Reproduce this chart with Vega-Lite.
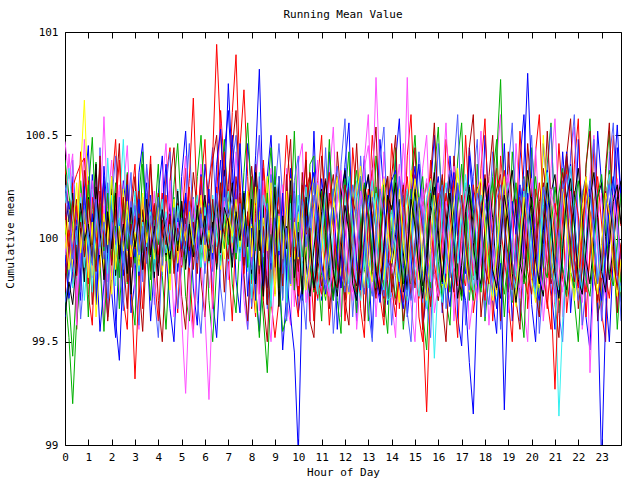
{
"$schema": "https://vega.github.io/schema/vega-lite/v6.json",
"width": 556, "height": 413,
"autosize": "none",
"padding": {"left": 65, "top": 32, "right": 19, "bottom": 35},
"background": "white",
"title": {"text": "Running Mean Value", "font": "DejaVu Sans Mono", "fontSize": 11, "fontWeight": "normal", "color": "black", "offset": 6, "anchor": "middle"},
"config": {"view": {"stroke": "black", "strokeWidth": 1}, "axis": {"labelFont": "DejaVu Sans Mono", "labelFontSize": 11, "labelColor": "black", "titleFont": "DejaVu Sans Mono", "titleFontSize": 11, "titleFontWeight": "normal", "titleColor": "black", "grid": false, "domain": false, "tickColor": "black", "tickSize": -6}},
"datasets": {
"main": [
{"x":0,"a":100.12,"b":99.74,"c":100.05,"d":100.47,"e":99.88,"f":100.21,"g":99.95,"h":100.31,"i":99.69,"j":99.83,"k":100.38,"l":99.92,"m":100.02,"n":100.17,"o":99.78,"p":100.09,"q":99.63,"r":100.26},
{"x":0.17,"a":99.96,"b":99.52,"c":100.18,"d":100.29,"e":100.03,"f":99.87,"g":100.14,"h":100.08,"i":99.81,"j":100.04,"k":100.21,"l":99.71,"m":99.88,"n":100.34,"o":99.93,"p":99.85,"q":99.79,"r":100.11},
{"x":0.33,"a":100.25,"b":99.2,"c":99.93,"d":100.41,"e":99.76,"f":100.05,"g":99.86,"h":100.22,"i":99.97,"j":99.91,"k":100.07,"l":99.84,"m":100.15,"n":100.12,"o":100.18,"p":100.02,"q":99.68,"r":99.9},
{"x":0.5,"a":100.31,"b":99.61,"c":100.09,"d":99.58,"e":99.94,"f":100.19,"g":100.02,"h":99.9,"i":100.13,"j":100.16,"k":99.88,"l":100.06,"m":99.72,"n":99.97,"o":99.82,"p":100.27,"q":99.9,"r":100.04},
{"x":0.67,"a":100.36,"b":99.83,"c":99.8,"d":100.22,"e":100.11,"f":99.75,"g":100.33,"h":100.05,"i":99.86,"j":99.94,"k":100.13,"l":99.77,"m":99.95,"n":100.2,"o":100.08,"p":99.93,"q":100.17,"r":99.74},
{"x":0.83,"a":100.39,"b":99.95,"c":100.12,"d":99.9,"e":99.7,"f":100.06,"g":100.67,"h":99.79,"i":100.21,"j":100.09,"k":99.98,"l":100.25,"m":100.07,"n":99.86,"o":99.91,"p":100.14,"q":99.99,"r":100.16},
{"x":1,"a":100.1,"b":100.22,"c":99.88,"d":100.14,"e":99.96,"f":100.28,"g":100.18,"h":100.2,"i":99.93,"j":99.78,"k":100.26,"l":99.9,"m":99.84,"n":100.03,"o":100.19,"p":99.81,"q":100.07,"r":100.02},
{"x":1.17,"a":100.04,"b":100.49,"c":100.31,"d":99.85,"e":100.24,"f":99.91,"g":99.82,"h":99.97,"i":100.08,"j":100.2,"k":100.03,"l":100.12,"m":100.28,"n":99.74,"o":100.01,"p":100.08,"q":99.88,"r":99.87},
{"x":1.33,"a":99.85,"b":100.06,"c":99.94,"d":100.33,"e":99.83,"f":100.13,"g":99.98,"h":100.36,"i":99.75,"j":100.01,"k":99.87,"l":99.68,"m":100.11,"n":100.15,"o":99.84,"p":99.62,"q":100.25,"r":100.19},
{"x":1.5,"a":100.18,"b":99.9,"c":99.55,"d":100.08,"e":100.1,"f":100.34,"g":100.2,"h":99.87,"i":100.15,"j":99.86,"k":100.17,"l":100.05,"m":99.92,"n":99.95,"o":100.23,"p":99.88,"q":100.04,"r":99.96},
{"x":1.67,"a":99.97,"b":100.12,"c":99.78,"d":100.59,"e":99.92,"f":99.82,"g":99.85,"h":100.11,"i":99.9,"j":100.28,"k":99.94,"l":100.3,"m":100.16,"n":100.07,"o":99.96,"p":100.12,"q":99.8,"r":100.08},
{"x":1.83,"a":100.08,"b":99.81,"c":100.2,"d":100.15,"e":100.39,"f":100.09,"g":100.06,"h":99.93,"i":100.27,"j":100.05,"k":100.22,"l":99.87,"m":99.79,"n":99.83,"o":100.1,"p":99.97,"q":100.13,"r":99.71},
{"x":2,"a":99.89,"b":100.03,"c":100.04,"d":99.8,"e":100.06,"f":99.95,"g":99.73,"h":100.24,"i":99.99,"j":99.92,"k":99.9,"l":100.18,"m":100.08,"n":100.21,"o":99.87,"p":100.3,"q":99.95,"r":100.14},
{"x":2.17,"a":100.21,"b":100.27,"c":99.6,"d":100.02,"e":99.77,"f":100.2,"g":100.11,"h":99.82,"i":100.12,"j":100.15,"k":100.06,"l":99.97,"m":99.93,"n":99.92,"o":100.14,"p":99.85,"q":100.22,"r":99.99},
{"x":2.33,"a":100.05,"b":99.92,"c":99.41,"d":100.26,"e":100.15,"f":99.88,"g":99.97,"h":100.09,"i":99.83,"j":100.38,"k":99.81,"l":100.09,"m":100.23,"n":100.1,"o":99.92,"p":100.06,"q":99.9,"r":100.2},
{"x":2.5,"a":99.93,"b":100.14,"c":99.87,"d":99.94,"e":100.48,"f":100.04,"g":100.24,"h":99.96,"i":100.06,"j":99.99,"k":100.19,"l":99.82,"m":100.02,"n":99.88,"o":100.2,"p":99.94,"q":100.07,"r":99.85},
{"x":2.67,"a":100.16,"b":99.78,"c":100.13,"d":100.11,"e":100.02,"f":100.31,"g":99.91,"h":100.17,"i":99.94,"j":100.24,"k":99.95,"l":100.26,"m":99.86,"n":100.14,"o":99.79,"p":100.18,"q":99.83,"r":100.09},
{"x":2.83,"a":99.8,"b":100.05,"c":99.95,"d":99.88,"e":99.9,"f":99.86,"g":100.09,"h":99.73,"i":100.18,"j":99.9,"k":100.11,"l":100.01,"m":100.13,"n":99.97,"o":100.07,"p":99.91,"q":100.15,"r":99.97},
{"x":3,"a":99.32,"b":100.19,"c":100.21,"d":100.18,"e":100.11,"f":100.09,"g":99.94,"h":100.02,"i":99.87,"j":100.11,"k":99.88,"l":99.91,"m":99.98,"n":100.23,"o":99.95,"p":100.03,"q":99.96,"r":100.16},
{"x":3.17,"a":99.77,"b":99.94,"c":99.82,"d":100.03,"e":99.84,"f":100.23,"g":100.16,"h":99.89,"i":100.1,"j":99.95,"k":100.16,"l":100.19,"m":100.07,"n":99.9,"o":100.12,"p":99.87,"q":100.1,"r":99.92},
{"x":3.33,"a":100.09,"b":100.36,"c":100.05,"d":99.87,"e":100.07,"f":99.93,"g":99.83,"h":100.14,"i":99.79,"j":100.2,"k":99.93,"l":99.86,"m":99.89,"n":100.08,"o":99.85,"p":100.22,"q":99.85,"r":100.06},
{"x":3.5,"a":99.96,"b":100.08,"c":100.27,"d":100.12,"e":99.98,"f":100.14,"g":100.05,"h":99.94,"i":100.22,"j":99.88,"k":100.09,"l":100.04,"m":100.17,"n":99.96,"o":100.03,"p":99.98,"q":100.19,"r":99.88},
{"x":3.67,"a":100.14,"b":99.85,"c":99.91,"d":99.96,"e":100.19,"f":99.84,"g":100.21,"h":100.08,"i":99.95,"j":100.06,"k":99.8,"l":100.21,"m":99.95,"n":100.13,"o":99.93,"p":100.1,"q":99.92,"r":100.11},
{"x":3.83,"a":99.88,"b":100.11,"c":100.08,"d":100.23,"e":99.88,"f":100.05,"g":99.97,"h":99.81,"i":100.09,"j":100.17,"k":100.05,"l":99.93,"m":100.06,"n":99.84,"o":100.16,"p":99.9,"q":100.06,"r":99.95},
{"x":4,"a":100.03,"b":99.97,"c":99.86,"d":99.82,"e":100.05,"f":100.22,"g":100.12,"h":100.19,"i":99.84,"j":99.92,"k":100.2,"l":100.12,"m":99.85,"n":100.05,"o":99.88,"p":100.15,"q":99.82,"r":100.2},
{"x":4.17,"a":100.22,"b":100.16,"c":100.14,"d":100.07,"e":99.92,"f":99.9,"g":99.89,"h":100.05,"i":100.16,"j":100.04,"k":99.91,"l":99.85,"m":100.1,"n":100.19,"o":100.09,"p":99.84,"q":100.14,"r":99.87},
{"x":4.33,"a":99.91,"b":99.89,"c":100.36,"d":99.95,"e":100.13,"f":100.08,"g":100.06,"h":99.92,"i":99.97,"j":100.21,"k":100.08,"l":100.03,"m":99.98,"n":99.93,"o":99.97,"p":100.07,"q":100.01,"r":100.09},
{"x":4.5,"a":100.1,"b":100.04,"c":99.98,"d":100.28,"e":99.81,"f":100.15,"g":99.75,"h":100.12,"i":100.05,"j":99.97,"k":99.83,"l":100.17,"m":100.22,"n":100.07,"o":100.11,"p":99.93,"q":99.9,"r":99.94},
{"x":4.67,"a":99.98,"b":100.2,"c":100.11,"d":99.9,"e":100.06,"f":99.83,"g":100.14,"h":99.97,"i":99.9,"j":100.13,"k":100.16,"l":99.9,"m":99.92,"n":99.88,"o":99.86,"p":100.19,"q":100.12,"r":100.15},
{"x":4.83,"a":100.17,"b":99.86,"c":99.84,"d":100.14,"e":100.24,"f":100.03,"g":99.93,"h":100.23,"i":100.12,"j":99.89,"k":99.97,"l":100.1,"m":100.08,"n":100.16,"o":100.05,"p":99.88,"q":99.94,"r":99.99},
{"x":5,"a":99.86,"b":100.12,"c":100.06,"d":99.62,"e":99.97,"f":100.18,"g":100.09,"h":99.87,"i":99.94,"j":100.08,"k":100.11,"l":99.95,"m":99.87,"n":100.01,"o":99.91,"p":100.08,"q":100.18,"r":100.1},
{"x":5.17,"a":100.05,"b":99.95,"c":100.22,"d":99.25,"e":100.1,"f":99.96,"g":100.02,"h":100.1,"i":100.07,"j":99.99,"k":99.88,"l":100.2,"m":100.14,"n":99.9,"o":100.17,"p":99.99,"q":99.85,"r":99.92},
{"x":5.33,"a":100.29,"b":100.07,"c":99.89,"d":99.71,"e":99.86,"f":100.1,"g":99.87,"h":99.95,"i":99.86,"j":100.25,"k":100.04,"l":99.87,"m":99.96,"n":100.12,"o":99.94,"p":100.13,"q":100.07,"r":100.18},
{"x":5.5,"a":100.68,"b":99.93,"c":100.12,"d":100.02,"e":100.08,"f":99.85,"g":100.15,"h":100.17,"i":100.2,"j":99.94,"k":99.92,"l":100.08,"m":100.19,"n":99.97,"o":100.08,"p":99.92,"q":99.91,"r":100.01},
{"x":5.67,"a":100.13,"b":100.15,"c":99.96,"d":100.16,"e":100.21,"f":100.12,"g":99.96,"h":99.88,"i":99.95,"j":100.1,"k":100.14,"l":99.94,"m":99.91,"n":100.09,"o":99.83,"p":100.06,"q":100.16,"r":99.88},
{"x":5.83,"a":99.92,"b":99.88,"c":100.31,"d":99.89,"e":99.93,"f":100.04,"g":100.08,"h":100.09,"i":100.1,"j":100.3,"k":99.86,"l":100.15,"m":100.05,"n":99.86,"o":100.14,"p":100.21,"q":99.97,"r":100.12},
{"x":6,"a":100.07,"b":100.09,"c":100.02,"d":99.63,"e":100.02,"f":99.9,"g":99.92,"h":100.21,"i":99.83,"j":99.97,"k":100.07,"l":100.01,"m":99.88,"n":100.15,"o":100.02,"p":99.89,"q":100.11,"r":99.97},
{"x":6.17,"a":100.26,"b":99.97,"c":100.19,"d":99.22,"e":99.88,"f":100.19,"g":100.17,"h":99.94,"i":100.16,"j":100.14,"k":99.94,"l":100.24,"m":100.12,"n":99.95,"o":99.95,"p":100.04,"q":99.89,"r":100.14},
{"x":6.33,"a":100.4,"b":100.13,"c":99.9,"d":99.75,"e":100.14,"f":100.05,"g":99.98,"h":100.08,"i":99.97,"j":99.91,"k":100.19,"l":99.9,"m":99.97,"n":100.21,"o":100.19,"p":99.93,"q":100.05,"r":99.84},
{"x":6.5,"a":100.94,"b":99.86,"c":100.14,"d":100.09,"e":99.96,"f":99.88,"g":100.11,"h":99.85,"i":100.13,"j":100.25,"k":100.04,"l":100.36,"m":100.1,"n":100.02,"o":99.88,"p":100.17,"q":100.2,"r":100.22},
{"x":6.67,"a":100.5,"b":100.1,"c":100.38,"d":99.94,"e":100.08,"f":100.27,"g":99.85,"h":100.14,"i":99.92,"j":100.05,"k":99.89,"l":100.53,"m":99.92,"n":99.87,"o":100.1,"p":100.03,"q":99.93,"r":100.04},
{"x":6.83,"a":100.21,"b":99.95,"c":100.03,"d":100.17,"e":100.22,"f":100.02,"g":100.06,"h":100.33,"i":100.24,"j":100.42,"k":100.12,"l":100.2,"m":100.18,"n":100.11,"o":100.02,"p":99.9,"q":100.15,"r":100.3},
{"x":7,"a":99.89,"b":100.24,"c":100.26,"d":99.9,"e":99.89,"f":100.14,"g":100.19,"h":100.09,"i":100.05,"j":100.18,"k":99.97,"l":100.75,"m":100.05,"n":100.23,"o":99.9,"p":100.12,"q":100.08,"r":100.1},
{"x":7.17,"a":100.12,"b":100.02,"c":100.5,"d":100.06,"e":100.03,"f":99.92,"g":99.95,"h":100.27,"i":99.89,"j":100.61,"k":100.15,"l":100.34,"m":99.93,"n":99.98,"o":100.16,"p":100.01,"q":99.86,"r":100.2},
{"x":7.33,"a":99.97,"b":99.9,"c":100.18,"d":100.24,"e":100.16,"f":100.3,"g":100.1,"h":99.96,"i":100.11,"j":100.89,"k":99.9,"l":100.13,"m":100.09,"n":100.1,"o":100.01,"p":100.19,"q":100.13,"r":99.93},
{"x":7.5,"a":100.15,"b":100.17,"c":99.93,"d":99.98,"e":99.95,"f":100.08,"g":100.02,"h":100.19,"i":100.16,"j":100.28,"k":100.07,"l":100.46,"m":100.21,"n":99.89,"o":100.22,"p":99.96,"q":99.99,"r":100.17},
{"x":7.67,"a":99.83,"b":99.94,"c":100.08,"d":100.13,"e":100.1,"f":99.87,"g":100.22,"h":99.9,"i":99.93,"j":99.95,"k":100.23,"l":100.11,"m":99.9,"n":100.14,"o":99.87,"p":100.08,"q":100.22,"r":99.91},
{"x":7.83,"a":100.04,"b":100.08,"c":99.85,"d":99.87,"e":99.84,"f":100.13,"g":99.9,"h":100.06,"i":100.08,"j":100.12,"k":99.86,"l":99.72,"m":100.03,"n":100.04,"o":100.1,"p":100.23,"q":99.96,"r":100.06},
{"x":8,"a":99.78,"b":99.8,"c":100.1,"d":100.27,"e":100.07,"f":99.66,"g":100.06,"h":99.83,"i":99.67,"j":99.89,"k":100.3,"l":100.05,"m":99.87,"n":99.71,"o":100.35,"p":99.91,"q":100.19,"r":99.85},
{"x":8.17,"a":99.96,"b":100.03,"c":100.4,"d":99.73,"e":99.8,"f":100.1,"g":99.64,"h":100.32,"i":100.2,"j":100.17,"k":99.94,"l":99.7,"m":100.16,"n":100.08,"o":100.12,"p":100.25,"q":99.78,"r":100.02},
{"x":8.33,"a":100.21,"b":99.86,"c":100.82,"d":100.15,"e":100.32,"f":99.82,"g":100.13,"h":99.94,"i":99.76,"j":99.73,"k":100.09,"l":100.24,"m":99.65,"n":99.85,"o":99.83,"p":99.87,"q":100.04,"r":100.3},
{"x":8.5,"a":99.7,"b":99.62,"c":100.14,"d":99.8,"e":99.91,"f":100.25,"g":99.97,"h":100.16,"i":100.07,"j":100.34,"k":99.8,"l":99.77,"m":100.28,"n":100.21,"o":100.06,"p":100.1,"q":99.72,"r":99.93},
{"x":8.67,"a":100.06,"b":99.35,"c":99.76,"d":100.02,"e":100.14,"f":99.9,"g":100.3,"h":99.68,"i":99.85,"j":99.98,"k":100.22,"l":100.16,"m":99.82,"n":100.13,"o":99.68,"p":99.94,"q":100.14,"r":100.17},
{"x":8.83,"a":99.85,"b":99.77,"c":99.95,"d":100.34,"e":99.67,"f":100.07,"g":99.92,"h":100.02,"i":100.31,"j":99.76,"k":99.91,"l":99.85,"m":100.1,"n":99.7,"o":100.23,"p":100.27,"q":99.9,"r":99.88},
{"x":9,"a":100.22,"b":99.98,"c":100.27,"d":99.92,"e":100.04,"f":99.73,"g":100.14,"h":99.82,"i":99.92,"j":100.08,"k":100.35,"l":100.1,"m":99.79,"n":100.26,"o":99.86,"p":99.72,"q":100.25,"r":100.09},
{"x":9.17,"a":99.93,"b":100.13,"c":99.74,"d":99.86,"e":100.3,"f":100.14,"g":99.68,"h":100.3,"i":100.05,"j":100.2,"k":99.76,"l":99.92,"m":100.12,"n":99.94,"o":100.09,"p":100.11,"q":99.67,"r":100.3},
{"x":9.33,"a":100.19,"b":99.71,"c":100.02,"d":100.26,"e":99.82,"f":99.85,"g":100.08,"h":99.86,"i":99.7,"j":99.85,"k":100.08,"l":100.22,"m":99.91,"n":100.1,"o":99.77,"p":99.9,"q":100.11,"r":99.83},
{"x":9.5,"a":99.82,"b":100.26,"c":99.8,"d":99.91,"e":99.95,"f":100.22,"g":99.95,"h":100.06,"i":100.19,"j":100.32,"k":99.87,"l":99.8,"m":100.34,"n":99.69,"o":100.31,"p":100.23,"q":99.95,"r":100.05},
{"x":9.67,"a":100.05,"b":99.94,"c":100.31,"d":100.09,"e":100.18,"f":99.94,"g":100.29,"h":99.77,"i":99.94,"j":99.91,"k":100.21,"l":99.62,"m":99.93,"n":100.17,"o":99.92,"p":99.77,"q":100.28,"r":99.78},
{"x":9.83,"a":99.75,"b":100.09,"c":99.94,"d":99.67,"e":99.83,"f":100.1,"g":99.9,"h":100.23,"i":100.27,"j":100.04,"k":99.75,"l":99.45,"m":100.17,"n":99.96,"o":100.06,"p":100.08,"q":99.81,"r":100.22},
{"x":10,"a":100.1,"b":99.87,"c":100.16,"d":100.13,"e":100.05,"f":99.79,"g":100.12,"h":99.9,"i":99.88,"j":99.73,"k":100.08,"l":98.95,"m":99.77,"n":100.21,"o":99.84,"p":99.9,"q":100.03,"r":99.91},
{"x":10.17,"a":99.88,"b":100.23,"c":99.72,"d":99.89,"e":100.27,"f":100.26,"g":99.76,"h":100.05,"i":100.1,"j":100.19,"k":99.91,"l":99.78,"m":100.1,"n":99.82,"o":100.32,"p":100.16,"q":99.73,"r":100.19},
{"x":10.33,"a":100.23,"b":99.96,"c":100.15,"d":100.07,"e":99.8,"f":100.11,"g":99.95,"h":99.88,"i":99.75,"j":100.17,"k":100.1,"l":100.05,"m":99.69,"n":100.25,"o":100.02,"p":99.75,"q":100.2,"r":99.96},
{"x":10.5,"a":100.31,"b":100.11,"c":99.87,"d":99.86,"e":99.72,"f":100.32,"g":100.13,"h":99.72,"i":99.94,"j":100.03,"k":99.88,"l":100.23,"m":99.88,"n":100.06,"o":100.05,"p":99.88,"q":99.98,"r":100.12},
{"x":10.67,"a":100.06,"b":100.27,"c":99.78,"d":100.1,"e":99.97,"f":100.14,"g":100.3,"h":99.95,"i":100.21,"j":99.8,"k":99.74,"l":100.32,"m":100.1,"n":99.84,"o":99.75,"p":100.14,"q":99.76,"r":100.27},
{"x":10.83,"a":99.8,"b":100.05,"c":100.02,"d":100.26,"e":100.24,"f":99.9,"g":100.08,"h":100.12,"i":100.1,"j":99.71,"k":99.93,"l":100.07,"m":100.27,"n":99.73,"o":99.91,"p":100.26,"q":99.89,"r":100.03},
{"x":11,"a":99.73,"b":99.82,"c":100.29,"d":100.04,"e":100.11,"f":99.77,"g":99.86,"h":100.24,"i":99.87,"j":99.94,"k":100.23,"l":99.88,"m":100.03,"n":99.98,"o":100.2,"p":100.02,"q":100.13,"r":99.85},
{"x":11.17,"a":99.97,"b":99.7,"c":100.12,"d":99.8,"e":99.88,"f":99.96,"g":99.72,"h":100.03,"i":99.78,"j":100.19,"k":100.06,"l":99.73,"m":99.8,"n":100.22,"o":100.29,"p":99.8,"q":100.28,"r":99.76},
{"x":11.33,"a":100.22,"b":99.91,"c":99.86,"d":99.72,"e":99.74,"f":100.18,"g":99.95,"h":99.81,"i":100.01,"j":100.32,"k":99.84,"l":99.95,"m":99.72,"n":100.1,"o":100.04,"p":99.93,"q":100.07,"r":100.02},
{"x":11.5,"a":100.07,"b":100.24,"c":99.7,"d":99.93,"e":100.02,"f":100.31,"g":100.2,"h":99.72,"i":100.24,"j":100.05,"k":99.7,"l":100.15,"m":99.95,"n":99.86,"o":99.82,"p":100.18,"q":99.85,"r":100.22},
{"x":11.67,"a":99.88,"b":100.1,"c":99.93,"d":100.19,"e":100.27,"f":100.06,"g":100.05,"h":99.96,"i":100.11,"j":99.86,"k":99.92,"l":99.91,"m":100.2,"n":99.73,"o":99.76,"p":100.3,"q":99.72,"r":100.35},
{"x":11.83,"a":99.76,"b":99.84,"c":100.2,"d":100.33,"e":100.14,"f":99.88,"g":99.82,"h":100.2,"i":99.86,"j":99.77,"k":100.17,"l":99.76,"m":100.31,"n":99.95,"o":100.01,"p":100.08,"q":99.94,"r":100.13},
{"x":12,"a":100.04,"b":99.71,"c":100.34,"d":100.1,"e":99.9,"f":99.7,"g":99.77,"h":100.33,"i":99.74,"j":100.01,"k":100.29,"l":100.03,"m":100.08,"n":100.2,"o":100.26,"p":99.86,"q":100.16,"r":99.87},
{"x":12.17,"a":100.25,"b":99.97,"c":100.07,"d":99.84,"e":99.78,"f":99.96,"g":100.04,"h":100.1,"i":100.02,"j":100.24,"k":100.04,"l":100.29,"m":99.86,"n":100.3,"o":100.11,"p":99.73,"q":100.03,"r":99.74},
{"x":12.33,"a":100.1,"b":100.21,"c":99.82,"d":99.7,"e":100.05,"f":100.2,"g":100.25,"h":99.84,"i":100.26,"j":100.16,"k":99.81,"l":100.12,"m":99.74,"n":100.04,"o":99.86,"p":99.97,"q":99.78,"r":99.96},
{"x":12.5,"a":99.84,"b":100.33,"c":99.7,"d":99.92,"e":100.28,"f":100.09,"g":100.11,"h":99.77,"i":100.13,"j":99.89,"k":99.73,"l":99.89,"m":99.98,"n":99.8,"o":99.74,"p":100.21,"q":99.7,"r":100.19},
{"x":12.67,"a":99.71,"b":100.08,"c":99.94,"d":100.16,"e":100.13,"f":99.83,"g":99.88,"h":99.99,"i":99.87,"j":99.76,"k":99.98,"l":99.75,"m":100.23,"n":99.7,"o":99.97,"p":100.35,"q":99.92,"r":100.3},
{"x":12.83,"a":99.93,"b":99.85,"c":100.21,"d":100.34,"e":99.9,"f":99.74,"g":99.76,"h":100.26,"i":99.73,"j":100.02,"k":100.27,"l":99.98,"m":100.14,"n":99.91,"o":100.24,"p":100.12,"q":100.2,"r":100.09},
{"x":13,"a":100.2,"b":99.78,"c":100.3,"d":100.45,"e":99.76,"f":99.95,"g":99.98,"h":100.14,"i":99.95,"j":100.24,"k":100.14,"l":100.21,"m":99.88,"n":100.17,"o":100.09,"p":99.88,"q":100.31,"r":99.82},
{"x":13.17,"a":100.33,"b":100.02,"c":100.05,"d":100.2,"e":100.01,"f":100.18,"g":100.23,"h":99.9,"i":100.2,"j":100.12,"k":99.87,"l":100.05,"m":99.73,"n":100.28,"o":99.84,"p":99.79,"q":100.08,"r":99.72},
{"x":13.33,"a":100.08,"b":100.25,"c":99.85,"d":100.78,"e":100.22,"f":100.04,"g":100.14,"h":99.73,"i":100.05,"j":99.87,"k":99.76,"l":99.8,"m":99.91,"n":100.06,"o":99.71,"p":99.96,"q":99.84,"r":99.98},
{"x":13.5,"a":99.86,"b":100.14,"c":99.72,"d":100.3,"e":100.1,"f":99.8,"g":99.91,"h":99.96,"i":99.81,"j":99.73,"k":100.02,"l":99.69,"m":100.18,"n":99.82,"o":99.96,"p":100.2,"q":99.73,"r":100.24},
{"x":13.67,"a":99.74,"b":99.87,"c":99.96,"d":99.85,"e":99.85,"f":99.71,"g":99.8,"h":100.22,"i":99.72,"j":99.98,"k":100.26,"l":99.9,"m":100.3,"n":99.75,"o":100.18,"p":100.29,"q":99.96,"r":100.11},
{"x":13.83,"a":99.95,"b":99.72,"c":100.18,"d":100.02,"e":99.7,"f":99.9,"g":100.07,"h":100.3,"i":99.94,"j":100.19,"k":100.13,"l":100.16,"m":100.07,"n":99.97,"o":100.3,"p":100.05,"q":100.21,"r":99.86},
{"x":14,"a":100.16,"b":99.85,"c":100.28,"d":99.9,"e":99.72,"f":99.85,"g":100.1,"h":99.86,"i":99.96,"j":99.76,"k":100.12,"l":100.28,"m":99.83,"n":100.15,"o":99.74,"p":99.88,"q":100.14,"r":99.92},
{"x":14.17,"a":100.04,"b":99.71,"c":100.33,"d":100.2,"e":99.95,"f":99.68,"g":99.87,"h":100.02,"i":100.28,"j":99.62,"k":100.31,"l":100.06,"m":99.9,"n":99.93,"o":99.89,"p":100.1,"q":100.27,"r":100.05},
{"x":14.33,"a":99.83,"b":99.9,"c":100.11,"d":100.36,"e":100.18,"f":99.81,"g":99.69,"h":100.19,"i":100.1,"j":99.85,"k":99.97,"l":99.78,"m":100.08,"n":99.79,"o":100.12,"p":100.24,"q":99.96,"r":100.3},
{"x":14.5,"a":99.69,"b":100.21,"c":99.87,"d":100.05,"e":99.96,"f":100.07,"g":99.92,"h":99.93,"i":99.81,"j":100.15,"k":99.78,"l":99.66,"m":100.27,"n":100.05,"o":100.26,"p":99.97,"q":99.74,"r":100.11},
{"x":14.67,"a":99.95,"b":100.05,"c":99.73,"d":100.78,"e":99.7,"f":100.23,"g":100.15,"h":99.75,"i":99.72,"j":100.3,"k":100.02,"l":99.9,"m":100.03,"n":100.24,"o":99.93,"p":99.82,"q":99.91,"r":99.83},
{"x":14.83,"a":100.2,"b":99.78,"c":99.96,"d":100.1,"e":99.91,"f":99.99,"g":100.33,"h":100.06,"i":99.98,"j":100.04,"k":100.24,"l":100.18,"m":99.8,"n":100.09,"o":99.71,"p":100.08,"q":100.19,"r":99.7},
{"x":15,"a":100.31,"b":99.92,"c":100.21,"d":99.86,"e":100.23,"f":99.76,"g":100.05,"h":100.24,"i":100.18,"j":99.82,"k":100.08,"l":100.35,"m":99.69,"n":99.85,"o":99.98,"p":100.29,"q":100.06,"r":99.94},
{"x":15.17,"a":99.97,"b":100.17,"c":100.36,"d":100.02,"e":100.08,"f":99.91,"g":99.8,"h":99.99,"i":99.87,"j":99.71,"k":99.85,"l":100.1,"m":99.93,"n":99.72,"o":100.19,"p":100.13,"q":99.85,"r":100.2},
{"x":15.33,"a":99.62,"b":100.3,"c":100.07,"d":100.24,"e":99.84,"f":100.16,"g":99.91,"h":99.77,"i":99.69,"j":99.96,"k":99.74,"l":99.83,"m":100.16,"n":99.94,"o":100.05,"p":99.86,"q":99.71,"r":100.08},
{"x":15.5,"a":99.16,"b":100.01,"c":99.82,"d":99.97,"e":99.66,"f":100.27,"g":100.14,"h":99.88,"i":99.95,"j":100.19,"k":99.98,"l":99.71,"m":100.29,"n":100.2,"o":99.83,"p":99.7,"q":99.92,"r":99.85},
{"x":15.67,"a":99.75,"b":99.76,"c":99.93,"d":99.79,"e":99.93,"f":100.04,"g":100.29,"h":100.11,"i":100.23,"j":100.07,"k":100.22,"l":99.96,"m":100.01,"n":100.28,"o":99.67,"p":99.95,"q":100.16,"r":99.72},
{"x":15.83,"a":100.05,"b":99.88,"c":100.19,"d":100.1,"e":99.42,"f":99.84,"g":100.02,"h":100.25,"i":100.06,"j":99.88,"k":100.13,"l":100.2,"m":99.83,"n":100,"o":99.9,"p":100.21,"q":100.32,"r":99.9},
{"x":16,"a":100.22,"b":100.13,"c":100.3,"d":100.27,"e":99.81,"f":99.7,"g":99.84,"h":99.98,"i":99.8,"j":99.74,"k":99.89,"l":100.04,"m":99.72,"n":99.8,"o":100.14,"p":100.06,"q":100.04,"r":100.17},
{"x":16.17,"a":99.93,"b":100.28,"c":100.04,"d":100.03,"e":100.14,"f":99.92,"g":99.77,"h":99.79,"i":99.94,"j":99.97,"k":99.71,"l":99.78,"m":99.95,"n":99.69,"o":100.31,"p":99.84,"q":99.79,"r":100.26},
{"x":16.33,"a":99.79,"b":99.97,"c":99.8,"d":99.83,"e":100.27,"f":100.2,"g":100.05,"h":100.07,"i":100.2,"j":100.22,"k":99.95,"l":99.94,"m":100.18,"n":99.93,"o":100.08,"p":99.76,"q":100.03,"r":99.95},
{"x":16.5,"a":100.04,"b":99.74,"c":99.67,"d":100.18,"e":100.03,"f":100.33,"g":100.24,"h":100.3,"i":100.33,"j":100.09,"k":100.19,"l":100.2,"m":100.07,"n":100.19,"o":99.85,"p":100.02,"q":100.22,"r":99.81},
{"x":16.67,"a":100.28,"b":99.9,"c":99.92,"d":100.35,"e":99.76,"f":100.06,"g":99.93,"h":100.1,"i":100.04,"j":99.86,"k":100.07,"l":100.32,"m":99.84,"n":100.05,"o":99.74,"p":100.18,"q":99.96,"r":100.03},
{"x":16.83,"a":100.1,"b":100.15,"c":100.26,"d":100.07,"e":99.87,"f":99.81,"g":99.78,"h":99.85,"i":99.79,"j":99.77,"k":99.82,"l":100.01,"m":99.73,"n":99.88,"o":99.99,"p":100.34,"q":99.71,"r":100.27},
{"x":17,"a":99.84,"b":100.36,"c":100.13,"d":99.81,"e":100.1,"f":99.97,"g":100.01,"h":99.72,"i":100.02,"j":100.03,"k":99.7,"l":99.79,"m":99.98,"n":100.14,"o":100.21,"p":100.11,"q":99.87,"r":100.14},
{"x":17.17,"a":99.77,"b":100.09,"c":99.83,"d":99.93,"e":100.31,"f":100.24,"g":100.21,"h":99.96,"i":100.25,"j":100.26,"k":99.96,"l":99.7,"m":100.23,"n":100.27,"o":99.97,"p":99.92,"q":100.13,"r":99.86},
{"x":17.33,"a":100.03,"b":99.82,"c":100.4,"d":100.2,"e":100.12,"f":100.07,"g":100.05,"h":100.21,"i":100.12,"j":100.1,"k":100.26,"l":99.4,"m":100.09,"n":99.96,"o":99.8,"p":99.74,"q":100.25,"r":99.75},
{"x":17.5,"a":100.26,"b":99.7,"c":100.14,"d":100.02,"e":99.88,"f":99.8,"g":99.82,"h":100.07,"i":99.84,"j":99.82,"k":100.11,"l":99.15,"m":99.86,"n":99.75,"o":100.06,"p":100.01,"q":99.98,"r":100.04},
{"x":17.67,"a":100.12,"b":99.95,"c":99.89,"d":99.8,"e":99.74,"f":99.93,"g":99.75,"h":99.84,"i":99.71,"j":99.94,"k":99.85,"l":99.75,"m":99.7,"n":100.03,"o":100.25,"p":100.23,"q":99.8,"r":100.22},
{"x":17.83,"a":99.88,"b":100.2,"c":99.76,"d":99.97,"e":99.95,"f":100.16,"g":100.02,"h":99.78,"i":99.96,"j":100.21,"k":99.74,"l":100.1,"m":99.93,"n":100.21,"o":100.1,"p":100.29,"q":100.1,"r":100.09},
{"x":18,"a":99.7,"b":100.08,"c":100.03,"d":100.28,"e":100.19,"f":100.31,"g":100.27,"h":100.05,"i":100.17,"j":100.03,"k":99.99,"l":100.28,"m":100.2,"n":100.09,"o":99.86,"p":100.07,"q":100.29,"r":99.8},
{"x":18.17,"a":99.95,"b":99.86,"c":100.22,"d":100.13,"e":100.05,"f":100.11,"g":100.1,"h":100.26,"i":100.05,"j":99.8,"k":100.16,"l":100.07,"m":100.27,"n":99.84,"o":99.78,"p":99.81,"q":100.04,"r":99.68},
{"x":18.33,"a":100.21,"b":99.98,"c":99.99,"d":99.9,"e":99.8,"f":99.84,"g":99.85,"h":100.1,"i":99.83,"j":99.75,"k":100.29,"l":99.83,"m":100.02,"n":99.72,"o":100.03,"p":99.7,"q":99.85,"r":99.95},
{"x":18.5,"a":100.34,"b":100.4,"c":99.78,"d":99.77,"e":99.68,"f":99.75,"g":99.72,"h":99.82,"i":99.76,"j":99.95,"k":100.06,"l":99.66,"m":99.78,"n":99.97,"o":100.24,"p":99.92,"q":99.76,"r":100.19},
{"x":18.67,"a":100.06,"b":100.77,"c":100.05,"d":100.01,"e":99.92,"f":99.98,"g":99.95,"h":99.71,"i":100.02,"j":100.2,"k":99.84,"l":99.88,"m":99.96,"n":100.17,"o":100.31,"p":100.15,"q":99.97,"r":100.26},
{"x":18.83,"a":99.9,"b":100.1,"c":100.25,"d":100.24,"e":100.16,"f":100.26,"g":100.18,"h":99.95,"i":100.29,"j":100.33,"k":99.73,"l":99.17,"m":100.16,"n":100.29,"o":100.07,"p":100.3,"q":100.21,"r":100.03},
{"x":19,"a":99.74,"b":99.82,"c":100.18,"d":100.31,"e":100.27,"f":100.07,"g":100.03,"h":100.22,"i":100.14,"j":100.08,"k":99.9,"l":99.8,"m":100.31,"n":100.06,"o":99.91,"p":100.04,"q":100.08,"r":99.84},
{"x":19.17,"a":99.98,"b":99.69,"c":99.89,"d":100.05,"e":100.02,"f":99.81,"g":99.8,"h":100.33,"i":99.89,"j":99.86,"k":100.14,"l":100.18,"m":100.07,"n":99.83,"o":99.75,"p":99.83,"q":99.83,"r":99.7},
{"x":19.33,"a":100.19,"b":99.93,"c":99.72,"d":99.84,"e":99.79,"f":99.72,"g":99.67,"h":100.12,"i":99.73,"j":99.79,"k":100.27,"l":100.02,"m":99.87,"n":99.76,"o":99.97,"p":99.72,"q":99.69,"r":99.97},
{"x":19.5,"a":100.02,"b":100.16,"c":99.98,"d":99.76,"e":99.9,"f":100.05,"g":99.92,"h":99.88,"i":99.93,"j":100.05,"k":100.03,"l":100.26,"m":99.71,"n":99.99,"o":100.2,"p":99.96,"q":99.87,"r":100.18},
{"x":19.67,"a":99.81,"b":100.3,"c":100.36,"d":100.07,"e":100.14,"f":100.21,"g":100.19,"h":99.79,"i":100.21,"j":100.24,"k":99.78,"l":99.9,"m":99.9,"n":100.23,"o":100.06,"p":100.2,"q":100.1,"r":100.29},
{"x":19.83,"a":99.73,"b":100.05,"c":100.8,"d":100.21,"e":100.25,"f":100.02,"g":100.31,"h":100.03,"i":100.09,"j":99.96,"k":99.86,"l":100.22,"m":100.14,"n":100.11,"o":99.84,"p":100.07,"q":100.33,"r":100.08},
{"x":20,"a":99.95,"b":99.83,"c":100.29,"d":99.94,"e":99.97,"f":99.8,"g":100.08,"h":100.2,"i":99.86,"j":99.8,"k":100.12,"l":100.04,"m":100.29,"n":99.87,"o":99.73,"p":99.8,"q":100.15,"r":99.84},
{"x":20.17,"a":100.24,"b":99.72,"c":99.95,"d":99.78,"e":99.74,"f":99.89,"g":99.85,"h":100.06,"i":99.71,"j":100.06,"k":100.3,"l":99.77,"m":100.06,"n":99.71,"o":99.95,"p":99.69,"q":99.9,"r":99.76},
{"x":20.33,"a":100.14,"b":99.96,"c":99.81,"d":100.03,"e":99.88,"f":100.13,"g":99.76,"h":99.81,"i":99.98,"j":100.27,"k":100.09,"l":99.7,"m":99.83,"n":99.96,"o":100.18,"p":99.9,"q":99.78,"r":100.02},
{"x":20.5,"a":99.86,"b":100.19,"c":100.1,"d":100.26,"e":100.16,"f":100.34,"g":100.03,"h":99.72,"i":100.25,"j":100.11,"k":99.87,"l":99.97,"m":99.75,"n":100.2,"o":100.27,"p":100.5,"q":100.04,"r":100.25},
{"x":20.67,"a":99.66,"b":100.06,"c":100.33,"d":100.12,"e":100.3,"f":100.18,"g":100.26,"h":99.98,"i":100.13,"j":99.88,"k":99.81,"l":100.21,"m":100.01,"n":100.32,"o":100.01,"p":100.18,"q":100.27,"r":100.16},
{"x":20.83,"a":99.91,"b":99.81,"c":100.07,"d":99.88,"e":100.04,"f":99.9,"g":100.12,"h":100.22,"i":99.89,"j":99.72,"k":100.05,"l":100.09,"m":100.24,"n":100.08,"o":99.78,"p":99.91,"q":100.08,"r":99.87},
{"x":21,"a":100.17,"b":99.93,"c":99.84,"d":99.69,"e":99.77,"f":99.75,"g":99.85,"h":100.31,"i":99.75,"j":99.27,"k":100.25,"l":99.84,"m":100.12,"n":99.82,"o":99.87,"p":99.73,"q":99.83,"r":99.73},
{"x":21.17,"a":100.04,"b":100.22,"c":99.96,"d":99.91,"e":99.14,"f":99.97,"g":99.7,"h":100.08,"i":100.02,"j":99.8,"k":100.1,"l":99.72,"m":99.89,"n":99.75,"o":100.13,"p":99.98,"q":99.71,"r":99.98},
{"x":21.33,"a":99.8,"b":100.34,"c":100.2,"d":100.18,"e":99.6,"f":100.23,"g":99.93,"h":99.85,"i":100.28,"j":100.09,"k":99.86,"l":99.95,"m":99.74,"n":99.98,"o":100.32,"p":100.24,"q":99.95,"r":100.22},
{"x":21.5,"a":99.72,"b":100.1,"c":100.42,"d":100.3,"e":99.95,"f":100.41,"g":100.17,"h":99.75,"i":100.16,"j":100.33,"k":99.72,"l":100.19,"m":99.97,"n":100.21,"o":100.19,"p":100.06,"q":100.2,"r":100.31},
{"x":21.67,"a":99.98,"b":99.84,"c":100.19,"d":100.06,"e":100.19,"f":100.16,"g":100.06,"h":99.97,"i":99.91,"j":100.16,"k":99.93,"l":100.36,"m":100.23,"n":100.35,"o":99.94,"p":99.83,"q":100.29,"r":100.07},
{"x":21.83,"a":100.23,"b":99.76,"c":99.9,"d":99.83,"e":100.09,"f":99.9,"g":99.82,"h":100.2,"i":99.8,"j":99.9,"k":100.16,"l":100.12,"m":100.08,"n":100.1,"o":99.79,"p":99.7,"q":100.07,"r":99.85},
{"x":22,"a":100.11,"b":99.97,"c":99.76,"d":99.75,"e":99.85,"f":99.77,"g":99.73,"h":100.34,"i":99.97,"j":99.76,"k":100.28,"l":99.86,"m":99.82,"n":99.87,"o":99.92,"p":99.87,"q":99.8,"r":99.7},
{"x":22.17,"a":99.87,"b":100.21,"c":99.99,"d":99.97,"e":99.74,"f":100.02,"g":99.98,"h":100.12,"i":100.22,"j":100,"k":100.04,"l":99.73,"m":99.69,"n":99.74,"o":100.17,"p":100.14,"q":99.73,"r":99.92},
{"x":22.33,"a":99.74,"b":100.29,"c":100.27,"d":100.2,"e":99.96,"f":100.28,"g":100.22,"h":99.9,"i":100.3,"j":100.25,"k":99.8,"l":99.96,"m":99.9,"n":99.97,"o":100.3,"p":100.3,"q":99.94,"r":100.16},
{"x":22.5,"a":99.9,"b":100.03,"c":100.11,"d":99.35,"e":100.21,"f":100.13,"g":100.09,"h":99.78,"i":100.05,"j":100.12,"k":99.72,"l":100.24,"m":100.17,"n":100.2,"o":100.05,"p":100.11,"q":100.19,"r":100.28},
{"x":22.67,"a":100.18,"b":99.8,"c":99.85,"d":99.82,"e":100.28,"f":99.86,"g":99.84,"h":99.99,"i":99.82,"j":99.85,"k":99.95,"l":100.05,"m":100.29,"n":100.04,"o":99.85,"p":99.85,"q":100.32,"r":100},
{"x":22.83,"a":100.3,"b":99.72,"c":99.7,"d":100.09,"e":100.01,"f":99.7,"g":99.7,"h":100.2,"i":99.71,"j":99.69,"k":100.2,"l":99.8,"m":100.06,"n":99.79,"o":99.7,"p":99.73,"q":100.1,"r":99.78},
{"x":23,"a":100.07,"b":99.94,"c":98.9,"d":100.22,"e":99.81,"f":99.95,"g":99.93,"h":100.27,"i":99.95,"j":99.94,"k":100.31,"l":99.7,"m":99.83,"n":99.96,"o":99.96,"p":99.97,"q":99.84,"r":99.9},
{"x":23.17,"a":99.83,"b":100.17,"c":99.62,"d":99.98,"e":99.93,"f":100.21,"g":100.2,"h":100.01,"i":100.19,"j":100.2,"k":100.08,"l":99.93,"m":99.71,"n":100.19,"o":100.23,"p":100.22,"q":99.74,"r":100.14},
{"x":23.33,"a":99.71,"b":100.33,"c":100.08,"d":99.8,"e":100.16,"f":100.07,"g":100.31,"h":99.8,"i":100.27,"j":100.31,"k":99.84,"l":100.16,"m":99.95,"n":100.31,"o":100.12,"p":100.12,"q":99.97,"r":100.26},
{"x":23.5,"a":99.95,"b":100.08,"c":100.25,"d":100.04,"e":100.3,"f":99.88,"g":100.12,"h":99.96,"i":100.05,"j":100.04,"k":99.77,"l":100.3,"m":100.21,"n":100.08,"o":99.89,"p":99.86,"q":100.18,"r":100.06},
{"x":23.67,"a":100.2,"b":99.86,"c":100.55,"d":100.29,"e":100.07,"f":99.75,"g":99.87,"h":100.19,"i":99.83,"j":99.82,"k":99.98,"l":100.09,"m":100.08,"n":99.86,"o":99.76,"p":99.72,"q":100.26,"r":99.82},
{"x":23.83,"a":100.06,"b":99.7,"c":100.18,"d":100.15,"e":99.9,"f":99.98,"g":99.74,"h":100.28,"i":99.77,"j":99.97,"k":100.22,"l":99.88,"m":99.85,"n":99.74,"o":99.97,"p":99.9,"q":100.07,"r":99.69}
],
"wide": [
{"x":0,"A":99.62,"B":100.35,"C":99.88,"D":100.1,"E":100.22,"F":99.74},
{"x":0.17,"A":99.85,"B":100.12,"C":100.41,"D":99.7,"E":99.9,"F":100.05},
{"x":0.33,"A":100.3,"B":99.78,"C":100.18,"D":99.43,"E":100.38,"F":100.27},
{"x":0.5,"A":100.06,"B":99.96,"C":99.65,"D":99.8,"E":100.05,"F":99.56},
{"x":0.67,"A":99.7,"B":100.42,"C":100.02,"D":100.28,"E":99.61,"F":99.92},
{"x":0.83,"A":100.24,"B":100.2,"C":100.48,"D":100.06,"E":99.84,"F":100.33},
{"x":1,"A":100.45,"B":99.73,"C":100.12,"D":99.62,"E":100.3,"F":100.1},
{"x":1.17,"A":99.92,"B":99.58,"C":99.81,"D":100.14,"E":100.08,"F":99.68},
{"x":1.33,"A":99.68,"B":100.08,"C":100.3,"D":100.37,"E":99.7,"F":99.97},
{"x":1.5,"A":99.88,"B":100.32,"C":99.92,"D":99.88,"E":100.44,"F":100.4},
{"x":1.67,"A":100.35,"B":99.85,"C":99.6,"D":99.55,"E":99.96,"F":100.02},
{"x":1.83,"A":100.1,"B":99.62,"C":100.16,"D":99.9,"E":99.62,"F":99.6},
{"x":2,"A":99.74,"B":100.25,"C":100.38,"D":100.3,"E":100.18,"F":99.83},
{"x":2.17,"A":99.52,"B":100.48,"C":99.95,"D":100.05,"E":100.4,"F":100.21},
{"x":2.33,"A":99.98,"B":100.02,"C":99.7,"D":99.66,"E":99.88,"F":100.46},
{"x":2.5,"A":100.28,"B":99.7,"C":100.22,"D":99.95,"E":99.65,"F":99.9},
{"x":2.67,"A":100.1,"B":99.56,"C":100.45,"D":100.32,"E":100.1,"F":99.66},
{"x":2.83,"A":99.64,"B":100.18,"C":100.06,"D":99.74,"E":100.32,"F":100.12},
{"x":3,"A":99.8,"B":100.36,"C":99.74,"D":99.58,"E":99.8,"F":100.3},
{"x":3.17,"A":100.32,"B":99.92,"C":99.56,"D":100.2,"E":99.58,"F":99.78},
{"x":3.33,"A":100.46,"B":99.66,"C":100.04,"D":100.42,"E":100.02,"F":99.55},
{"x":3.5,"A":100,"B":100.1,"C":100.34,"D":99.96,"E":100.36,"F":99.98},
{"x":3.67,"A":99.6,"B":100.4,"C":100.12,"D":99.7,"E":100.14,"F":100.36},
{"x":3.83,"A":99.86,"B":99.82,"C":99.68,"D":100.08,"E":99.72,"F":100.08},
{"x":4,"A":100.22,"B":99.6,"C":99.9,"D":100.36,"E":99.52,"F":99.7},
{"x":4.17,"A":100.4,"B":100,"C":100.28,"D":99.82,"E":99.9,"F":99.5},
{"x":4.33,"A":99.94,"B":100.3,"C":100.46,"D":99.56,"E":100.26,"F":99.88},
{"x":4.5,"A":99.66,"B":100.44,"C":99.98,"D":99.92,"E":100.42,"F":100.28},
{"x":4.67,"A":99.5,"B":99.88,"C":99.62,"D":100.26,"E":100,"F":100.44},
{"x":4.83,"A":99.9,"B":99.64,"C":99.84,"D":100.46,"E":99.66,"F":100.06},
{"x":5,"A":100.3,"B":100.06,"C":100.2,"D":100.1,"E":99.86,"F":99.72},
{"x":5.17,"A":100.52,"B":100.34,"C":100.4,"D":99.72,"E":100.2,"F":99.56},
{"x":5.33,"A":100.12,"B":99.86,"C":99.7,"D":99.6,"E":100.46,"F":99.96},
{"x":5.5,"A":99.76,"B":99.56,"C":99.52,"D":100,"E":100.06,"F":100.32},
{"x":5.67,"A":99.58,"B":99.9,"C":100,"D":100.3,"E":99.7,"F":100.14},
{"x":5.83,"A":99.98,"B":100.26,"C":100.36,"D":100.5,"E":99.54,"F":99.8},
{"x":6,"A":100.36,"B":100.48,"C":100.1,"D":100.12,"E":99.9,"F":99.62},
{"x":6.17,"A":100.18,"B":100,"C":99.76,"D":99.7,"E":100.28,"F":100},
{"x":6.33,"A":99.7,"B":99.66,"C":99.92,"D":99.5,"E":100.44,"F":100.38},
{"x":6.5,"A":99.52,"B":100.2,"C":100.3,"D":99.86,"E":100.1,"F":100.5},
{"x":6.67,"A":99.9,"B":100.62,"C":100.56,"D":100.22,"E":99.76,"F":100.1},
{"x":6.83,"A":100.42,"B":100.34,"C":100.14,"D":100.48,"E":99.6,"F":99.74},
{"x":7,"A":100.62,"B":99.9,"C":99.8,"D":100.14,"E":100,"F":100.06},
{"x":7.17,"A":100.28,"B":99.6,"C":100.1,"D":99.78,"E":100.36,"F":100.44},
{"x":7.33,"A":99.8,"B":100.06,"C":100.42,"D":99.64,"E":100.5,"F":100.62},
{"x":7.5,"A":99.64,"B":100.44,"C":100.04,"D":100,"E":100.12,"F":100.2},
{"x":7.67,"A":100.06,"B":100.72,"C":99.7,"D":100.32,"E":99.8,"F":99.82},
{"x":7.83,"A":100.46,"B":100.3,"C":99.56,"D":100.56,"E":99.56,"F":99.6},
{"x":8,"A":100.24,"B":99.84,"C":99.9,"D":100.16,"E":99.92,"F":100},
{"x":8.17,"A":99.76,"B":99.62,"C":100.24,"D":99.76,"E":100.3,"F":100.36},
{"x":8.33,"A":99.55,"B":100.04,"C":100.5,"D":99.52,"E":100.5,"F":100.14},
{"x":8.5,"A":99.92,"B":100.38,"C":100.12,"D":99.86,"E":100.04,"F":99.7},
{"x":8.67,"A":100.3,"B":100.1,"C":99.68,"D":100.2,"E":99.66,"F":99.5},
{"x":8.83,"A":100.5,"B":99.7,"C":99.5,"D":100.44,"E":99.84,"F":99.9},
{"x":9,"A":100.08,"B":99.52,"C":99.86,"D":100.06,"E":100.22,"F":100.3},
{"x":9.17,"A":99.9,"B":99.7,"C":100.3,"D":99.8,"E":100.46,"F":100.02},
{"x":9.33,"A":99.46,"B":100.16,"C":100.12,"D":99.55,"E":100.2,"F":99.84},
{"x":9.5,"A":99.74,"B":100.5,"C":99.7,"D":99.62,"E":99.6,"F":100.26},
{"x":9.67,"A":100.34,"B":100.22,"C":99.58,"D":100.1,"E":99.9,"F":100.48},
{"x":9.83,"A":100.12,"B":99.76,"C":100.04,"D":100.52,"E":100.28,"F":99.9},
{"x":10,"A":99.64,"B":99.62,"C":100.36,"D":99.98,"E":100.4,"F":99.72},
{"x":10.17,"A":99.78,"B":100.1,"C":100.46,"D":99.7,"E":99.76,"F":100.14},
{"x":10.33,"A":100.26,"B":100.42,"C":99.92,"D":99.88,"E":99.56,"F":100.38},
{"x":10.5,"A":99.96,"B":99.88,"C":99.6,"D":100.36,"E":100.1,"F":99.6},
{"x":10.67,"A":100.52,"B":99.6,"C":100.2,"D":100.4,"E":100.32,"F":99.52},
{"x":10.83,"A":100.04,"B":100.28,"C":100.38,"D":99.84,"E":99.7,"F":100},
{"x":11,"A":99.7,"B":100.5,"C":99.72,"D":99.6,"E":100.04,"F":100.4},
{"x":11.17,"A":99.88,"B":99.94,"C":99.88,"D":100.1,"E":100.44,"F":100.18},
{"x":11.33,"A":100.42,"B":99.58,"C":100.3,"D":100.48,"E":100.02,"F":99.66},
{"x":11.5,"A":100.1,"B":99.82,"C":100.54,"D":100.08,"E":99.54,"F":99.82},
{"x":11.67,"A":99.56,"B":100.3,"C":100.06,"D":99.7,"E":99.8,"F":100.42},
{"x":11.83,"A":99.84,"B":100.08,"C":99.62,"D":99.54,"E":100.36,"F":100.2},
{"x":12,"A":100.36,"B":99.6,"C":99.84,"D":100.2,"E":100.58,"F":99.7},
{"x":12.17,"A":100.56,"B":99.9,"C":100.3,"D":100.42,"E":100,"F":99.58},
{"x":12.33,"A":99.98,"B":100.44,"C":100.12,"D":99.86,"E":99.62,"F":100.1},
{"x":12.5,"A":99.6,"B":100.2,"C":99.56,"D":99.64,"E":99.92,"F":100.46},
{"x":12.67,"A":100.14,"B":99.66,"C":99.8,"D":100.3,"E":100.4,"F":100.06},
{"x":12.83,"A":100.4,"B":99.52,"C":100.38,"D":100.06,"E":100.1,"F":99.6},
{"x":13,"A":99.9,"B":100.1,"C":100.6,"D":99.6,"E":99.66,"F":99.88},
{"x":13.17,"A":99.52,"B":100.5,"C":100,"D":99.9,"E":99.5,"F":100.34},
{"x":13.33,"A":100.02,"B":100.26,"C":99.62,"D":100.4,"E":99.98,"F":100.54},
{"x":13.5,"A":100.48,"B":99.72,"C":99.9,"D":100.18,"E":100.38,"F":100},
{"x":13.67,"A":100.2,"B":99.58,"C":100.42,"D":99.72,"E":100.54,"F":99.62},
{"x":13.83,"A":99.68,"B":100.02,"C":100.16,"D":99.54,"E":100,"F":99.8},
{"x":14,"A":99.94,"B":100.46,"C":99.7,"D":100.04,"E":99.58,"F":100.3},
{"x":14.17,"A":100.38,"B":100.24,"C":99.52,"D":100.44,"E":99.82,"F":100.5},
{"x":14.33,"A":100.58,"B":99.66,"C":100.08,"D":99.92,"E":100.3,"F":99.96},
{"x":14.5,"A":100.1,"B":99.88,"C":100.46,"D":99.56,"E":100.12,"F":99.6},
{"x":14.67,"A":99.62,"B":100.4,"C":100.2,"D":99.8,"E":99.64,"F":99.76},
{"x":14.83,"A":99.82,"B":100.6,"C":99.68,"D":100.28,"E":99.5,"F":100.22},
{"x":15,"A":100.3,"B":100.14,"C":99.5,"D":100.5,"E":99.96,"F":100.44},
{"x":15.17,"A":100.04,"B":99.62,"C":99.94,"D":100.16,"E":100.42,"F":99.98},
{"x":15.33,"A":99.56,"B":99.5,"C":100.34,"D":99.64,"E":100.2,"F":99.56},
{"x":15.5,"A":99.74,"B":100.02,"C":100.5,"D":99.46,"E":99.7,"F":99.8},
{"x":15.67,"A":100.24,"B":100.38,"C":100.02,"D":99.9,"E":99.52,"F":100.3},
{"x":15.83,"A":100.5,"B":100.1,"C":99.64,"D":100.32,"E":100.04,"F":100.56},
{"x":16,"A":100.08,"B":99.7,"C":99.78,"D":100.54,"E":100.46,"F":100.12},
{"x":16.17,"A":99.64,"B":99.94,"C":100.28,"D":100.1,"E":100.18,"F":99.68},
{"x":16.33,"A":99.9,"B":100.48,"C":100.56,"D":99.7,"E":99.66,"F":99.5},
{"x":16.5,"A":100.4,"B":100.3,"C":100.1,"D":99.58,"E":99.88,"F":99.9},
{"x":16.67,"A":100.16,"B":99.76,"C":99.6,"D":100.02,"E":100.36,"F":100.4},
{"x":16.83,"A":99.62,"B":99.52,"C":99.88,"D":100.38,"E":100.6,"F":100.14},
{"x":17,"A":99.48,"B":100.06,"C":100.34,"D":100.56,"E":100.06,"F":99.72},
{"x":17.17,"A":100,"B":100.5,"C":100.06,"D":100.06,"E":99.58,"F":99.96},
{"x":17.33,"A":100.44,"B":100.16,"C":99.56,"D":99.7,"E":99.8,"F":100.44},
{"x":17.5,"A":100.24,"B":99.64,"C":99.72,"D":99.92,"E":100.3,"F":100.6},
{"x":17.67,"A":99.72,"B":99.8,"C":100.24,"D":100.36,"E":100.48,"F":100.08},
{"x":17.83,"A":99.96,"B":100.34,"C":100.52,"D":100.1,"E":99.94,"F":99.62},
{"x":18,"A":100.5,"B":100.58,"C":100,"D":99.6,"E":99.62,"F":99.84},
{"x":18.17,"A":100.18,"B":100.06,"C":99.58,"D":99.82,"E":100.08,"F":100.3},
{"x":18.33,"A":99.7,"B":99.6,"C":99.84,"D":100.3,"E":100.42,"F":100.5},
{"x":18.5,"A":99.54,"B":99.86,"C":100.38,"D":100.48,"E":100,"F":100.04},
{"x":18.67,"A":100.08,"B":100.4,"C":100.6,"D":99.96,"E":99.56,"F":99.6},
{"x":18.83,"A":100.46,"B":100.2,"C":100.06,"D":99.62,"E":99.86,"F":99.9},
{"x":19,"A":100.02,"B":99.7,"C":99.64,"D":99.9,"E":100.34,"F":100.42},
{"x":19.17,"A":99.6,"B":99.5,"C":99.9,"D":100.42,"E":100.56,"F":100.16},
{"x":19.33,"A":99.86,"B":100.04,"C":100.46,"D":100.2,"E":100.1,"F":99.7},
{"x":19.5,"A":100.38,"B":100.52,"C":100.2,"D":99.7,"E":99.6,"F":99.56},
{"x":19.67,"A":100.6,"B":100.2,"C":99.66,"D":99.52,"E":99.84,"F":100.06},
{"x":19.83,"A":100.12,"B":99.66,"C":99.5,"D":99.96,"E":100.28,"F":100.46},
{"x":20,"A":99.68,"B":99.9,"C":100,"D":100.44,"E":100.5,"F":100.2},
{"x":20.17,"A":99.5,"B":100.42,"C":100.44,"D":100.2,"E":100.02,"F":99.74},
{"x":20.33,"A":99.92,"B":100.6,"C":100.1,"D":99.66,"E":99.54,"F":99.62},
{"x":20.5,"A":100.46,"B":100.12,"C":99.6,"D":99.84,"E":99.8,"F":100.1},
{"x":20.67,"A":100.24,"B":99.7,"C":99.82,"D":100.36,"E":100.32,"F":100.52},
{"x":20.83,"A":99.76,"B":99.56,"C":100.34,"D":100.56,"E":100.54,"F":100.16},
{"x":21,"A":99.56,"B":100.08,"C":100.58,"D":100.06,"E":100.1,"F":99.68},
{"x":21.17,"A":100.06,"B":100.46,"C":100.12,"D":99.64,"E":99.64,"F":99.52},
{"x":21.33,"A":100.42,"B":100.18,"C":99.62,"D":99.9,"E":99.5,"F":99.96},
{"x":21.5,"A":100.16,"B":99.64,"C":99.86,"D":100.4,"E":99.94,"F":100.4},
{"x":21.67,"A":99.64,"B":99.84,"C":100.4,"D":100.22,"E":100.4,"F":100.58},
{"x":21.83,"A":99.9,"B":100.36,"C":100.54,"D":99.7,"E":100.6,"F":100.1},
{"x":22,"A":100.48,"B":100.58,"C":100.04,"D":99.5,"E":100.06,"F":99.66},
{"x":22.17,"A":100.1,"B":100,"C":99.56,"D":99.88,"E":99.58,"F":99.86},
{"x":22.33,"A":99.62,"B":99.62,"C":99.76,"D":100.34,"E":99.76,"F":100.36},
{"x":22.5,"A":99.46,"B":99.94,"C":100.3,"D":100.58,"E":100.24,"F":100.52},
{"x":22.67,"A":99.96,"B":100.46,"C":100.5,"D":100.04,"E":100.48,"F":100.02},
{"x":22.83,"A":100.52,"B":100.22,"C":99.96,"D":99.64,"E":100,"F":99.6},
{"x":23,"A":100.26,"B":99.64,"C":99.6,"D":99.7,"E":99.6,"F":99.82},
{"x":23.17,"A":99.74,"B":99.5,"C":99.92,"D":100.3,"E":99.9,"F":100.34},
{"x":23.33,"A":99.5,"B":100.08,"C":100.42,"D":100.52,"E":100.38,"F":100.56},
{"x":23.5,"A":99.92,"B":100.5,"C":100.2,"D":100,"E":100.56,"F":100.06},
{"x":23.67,"A":100.44,"B":100.24,"C":99.66,"D":99.56,"E":100.02,"F":99.64},
{"x":23.83,"A":100.2,"B":99.7,"C":99.86,"D":99.84,"E":99.6,"F":99.92}
]
},
"layer": [
{"data": {"name": "wide"},
 "transform": [{"fold": ["A","B","C","D","E","F"], "as": ["s","y"]}],
 "mark": {"type": "line", "strokeWidth": 1, "clip": true},
 "encoding": {
  "x": {"field": "x", "type": "quantitative", "scale": {"domain": [0, 23.83], "nice": false, "zero": false}, "axis": null},
  "y": {"field": "y", "type": "quantitative", "scale": {"domain": [99, 101], "nice": false, "zero": false}, "axis": null},
  "color": {"field": "s", "type": "nominal", "legend": null,
            "scale": {"domain": ["a","b","c","d","e","f","g","h","i","j","k","l","m","n","o","p","q","r","A","B","C","D","E","F"],
                      "range": ["#ff0000","#00b000","#0000ff","#ff50ff","#30f0f0","#b00000","#ffff00","#000000","#4f5fff","#ff0000","#00b000","#0000ff","#ff50ff","#30f0f0","#b00000","#ffff00","#000000","#4f5fff","#0000ff","#ff0000","#ff50ff","#00b000","#4f5fff","#b00000"]}}
 }},
{"data": {"name": "main"},
 "transform": [{"fold": ["a","b","c","d","e","f","g","h","i","j","k","l","m","n","o","p","q","r"], "as": ["s","y"]}],
 "mark": {"type": "line", "strokeWidth": 1, "clip": true},
 "encoding": {
  "x": {"field": "x", "type": "quantitative", "scale": {"domain": [0, 23.83], "nice": false, "zero": false},
        "axis": {"orient": "bottom", "values": [0,1,2,3,4,5,6,7,8,9,10,11,12,13,14,15,16,17,18,19,20,21,22,23], "format": "d", "labelPadding": 12, "title": "Hour of Day", "titlePadding": 4, "labelFlush": false}},
  "y": {"field": "y", "type": "quantitative", "scale": {"domain": [99, 101], "nice": false, "zero": false},
        "axis": {"orient": "left", "values": [99, 99.5, 100, 100.5, 101], "format": "~g", "labelPadding": 13, "title": "Cumulative mean", "titlePadding": 9, "labelFlush": false}},
  "color": {"field": "s", "type": "nominal", "legend": null,
            "scale": {"domain": ["a","b","c","d","e","f","g","h","i","j","k","l","m","n","o","p","q","r","A","B","C","D","E","F"],
                      "range": ["#ff0000","#00b000","#0000ff","#ff50ff","#30f0f0","#b00000","#ffff00","#000000","#4f5fff","#ff0000","#00b000","#0000ff","#ff50ff","#30f0f0","#b00000","#ffff00","#000000","#4f5fff","#0000ff","#ff0000","#ff50ff","#00b000","#4f5fff","#b00000"]}}
 }},
{"data": {"name": "wide"},
 "mark": {"type": "point", "opacity": 0, "size": 1},
 "encoding": {
  "x": {"field": "x", "type": "quantitative", "scale": {"domain": [0, 23.83], "nice": false, "zero": false},
        "axis": {"orient": "top", "values": [0,1,2,3,4,5,6,7,8,9,10,11,12,13,14,15,16,17,18,19,20,21,22,23], "labels": false, "title": null}},
  "y": {"field": "A", "type": "quantitative", "scale": {"domain": [99, 101], "nice": false, "zero": false},
        "axis": {"orient": "right", "values": [99, 99.5, 100, 100.5, 101], "labels": false, "title": null}}
 }}
],
"resolve": {"axis": {"x": "independent", "y": "independent"}}
}
